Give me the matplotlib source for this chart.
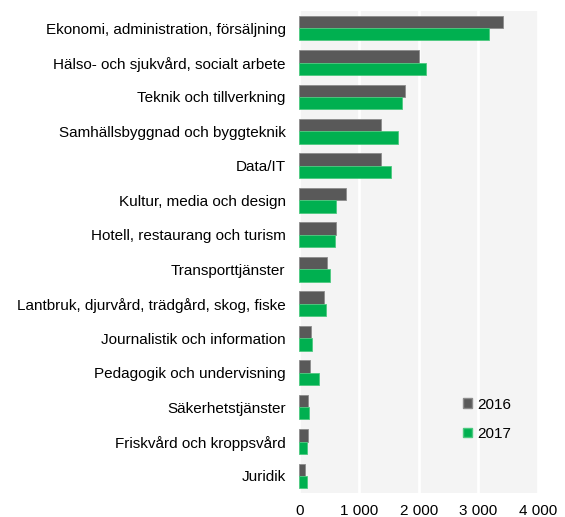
import matplotlib
matplotlib.use("Agg")
from matplotlib import pyplot as plt
from matplotlib.patches import Patch
import numpy as np

plt.rcParams['font.family'] = ['Liberation Sans', 'DejaVu Sans']

categories = [
    'Ekonomi, administration, försäljning',
    'Hälso- och sjukvård, socialt arbete',
    'Teknik och tillverkning',
    'Samhällsbyggnad och byggteknik',
    'Data/IT',
    'Kultur, media och design',
    'Hotell, restaurang och turism',
    'Transporttjänster',
    'Lantbruk, djurvård, trädgård, skog, fiske',
    'Journalistik och information',
    'Pedagogik och undervisning',
    'Säkerhetstjänster',
    'Friskvård och kroppsvård',
    'Juridik',
]
values_2016 = [3420, 2010, 1765, 1365, 1365, 780, 610, 455, 415, 200, 185, 150, 140, 85]
values_2017 = [3180, 2120, 1720, 1655, 1535, 620, 595, 510, 445, 210, 335, 165, 120, 120]
xticks = [0, 1000, 2000, 3000, 4000]
xticklabels = ['0', '1 000', '2 000', '3 000', '4 000']

gray = '#595959'
green = '#00b050'

fig = plt.figure(figsize=(5.65, 5.17), dpi=100)
ax = fig.add_axes([0.530, 0.046, 0.422, 0.933])
ax.set_facecolor('#f4f4f4')

y = np.arange(len(categories))
h = 0.36
ax.barh(y - h / 2, values_2016, height=h, color=gray, edgecolor='#8c8c8c', linewidth=0.6, zorder=3, label='2016')
ax.barh(y + h / 2, values_2017, height=h, color=green, edgecolor='#4cc97f', linewidth=0.6, zorder=3, label='2017')

ax.set_xlim(0, 4000)
ax.set_ylim(len(categories) - 0.5, -0.5)
ax.set_yticks(y)
ax.set_yticklabels(categories, fontsize=11)
ax.set_xticks(xticks)
ax.set_xticklabels(xticklabels, fontsize=11)
ax.tick_params(axis='both', length=0, colors='black')
ax.tick_params(axis='y', pad=10)
ax.tick_params(axis='x', pad=8)
ax.grid(axis='x', color='white', linewidth=2, zorder=1)
for s in ax.spines.values():
    s.set_visible(False)

handles = [Patch(facecolor=gray, edgecolor='#8c8c8c'), Patch(facecolor=green, edgecolor='#4cc97f')]
ax.legend(handles, ['2016', '2017'], loc='lower right', bbox_to_anchor=(0.945, 0.08), frameon=False,
          fontsize=11, handlelength=0.6, handleheight=0.6, handletextpad=0.3, labelspacing=1.0)

fig.savefig('out.png', dpi=100)
